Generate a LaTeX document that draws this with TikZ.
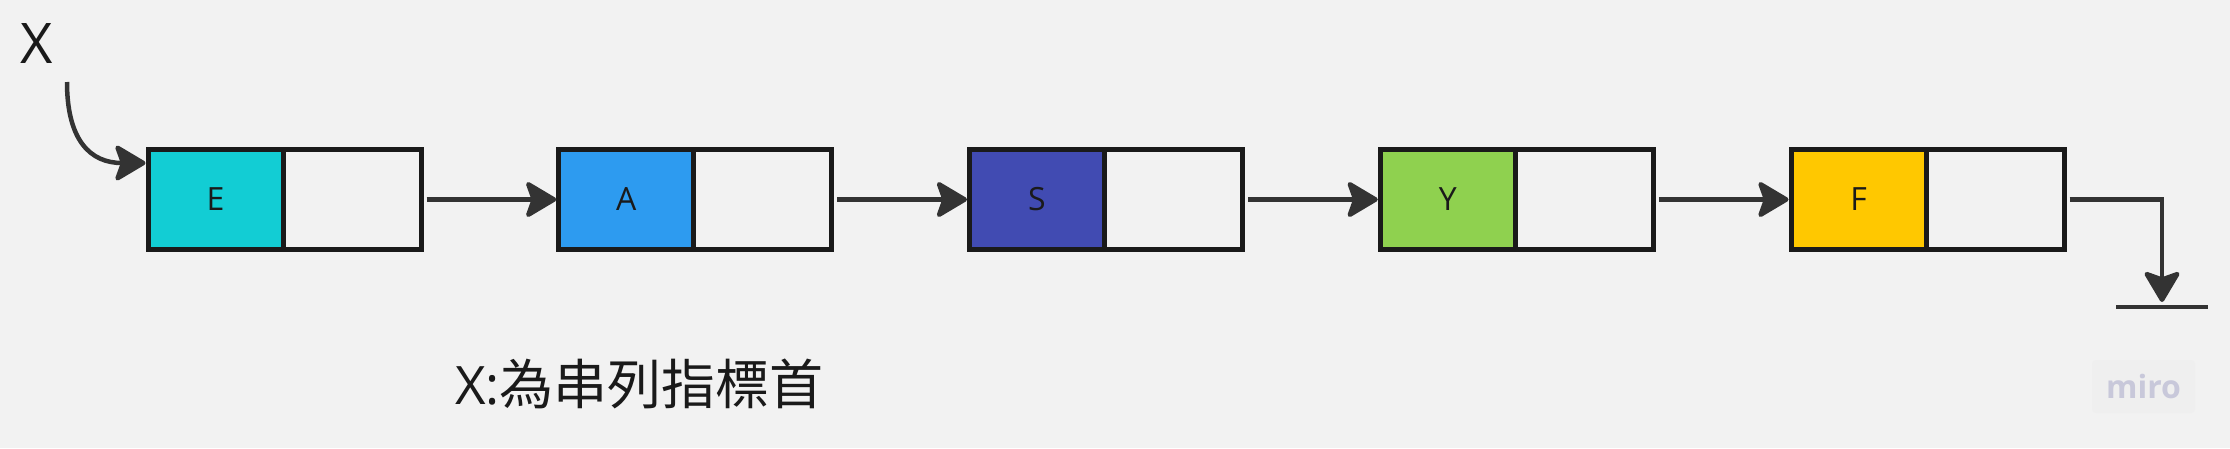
\documentclass[tikz,border=0pt]{standalone}
\usepackage{fontspec}
\setmainfont{Open Sans}
\newfontfamily\cjkfont{Noto Sans CJK TC}
\usetikzlibrary{arrows.meta}
\definecolor{bg}{HTML}{F2F2F2}
\definecolor{boxline}{HTML}{1A1A1A}
\definecolor{connc}{HTML}{333333}
\definecolor{txt}{HTML}{1A1A1A}
\definecolor{cE}{HTML}{12CDD4}
\definecolor{cA}{HTML}{2D9BF0}
\definecolor{cS}{HTML}{414BB2}
\definecolor{cY}{HTML}{8FD14F}
\definecolor{cF}{HTML}{FFC800}
\definecolor{wmbg}{HTML}{EFEFEF}
\definecolor{wmtext}{HTML}{C8C8DA}
\begin{document}
\begin{tikzpicture}[x=1pt,y=-1pt,
  cell/.style={draw=boxline, line width=5pt, minimum height=100pt, inner sep=0pt,
    font=\fontsize{32}{38}\selectfont, text=txt},
  datacell/.style={cell, minimum width=135pt},
  ptrcell/.style={cell, minimum width=138pt, fill=bg},
  conn/.style={draw=connc, line width=4.5pt,
    -{Stealth[length=34pt,width=40pt,inset=7pt,round]}},
  plainline/.style={draw=connc, line width=4.5pt},
]
\fill[bg] (0,0) rectangle (2230,448);
\useasboundingbox (0,0) rectangle (2230,448);

% top label
\node[font=\fontsize{56}{60}\selectfont, anchor=base, text=txt, inner sep=0pt] (xlabel) at (37,63) {X};

% list nodes
\node[datacell, fill=cE] (e) at (215.5,199.5) {E};
\node[ptrcell] (e2) at (352,199.5) {};
\node[datacell, fill=cA] (a) at (626.25,199.5) {A};
\node[ptrcell] (a2) at (762.75,199.5) {};
\node[datacell, fill=cS] (s) at (1037,199.5) {S};
\node[ptrcell] (s2) at (1173.5,199.5) {};
\node[datacell, fill=cY] (y) at (1447.75,199.5) {Y};
\node[ptrcell] (y2) at (1584.25,199.5) {};
\node[datacell, fill=cF] (f) at (1858.5,199.5) {F};
\node[ptrcell] (f2) at (1995,199.5) {};

% head pointer
\coordinate (xs) at (67,82);
\draw[conn] (xs) .. controls (67,140) and (90,163) .. ([yshift=36.5pt]e.west);

% links
\draw[conn] ([xshift=3pt]e2.east) -- (a.west);
\draw[conn] ([xshift=3pt]a2.east) -- (s.west);
\draw[conn] ([xshift=3pt]s2.east) -- (y.west);
\draw[conn] ([xshift=3pt]y2.east) -- (f.west);

% null terminator
\coordinate (gtip) at (2162,302);
\coordinate (gl) at (2116,307);
\coordinate (gr) at (2208,307);
\draw[conn] ([xshift=3pt]f2.east) -| (gtip);
\draw[plainline] (gl) -- (gr);

% caption
\node[anchor=base west, inner sep=0pt, text=txt] (caption) at (455,404)
  {\fontsize{53}{60}\selectfont X:\cjkfont\fontsize{54}{60}\selectfont 為串列指標首};

% watermark
\node[fill=wmbg, rounded corners=4pt, minimum width=103pt, minimum height=53pt,
  text=wmtext, font=\fontsize{32}{36}\selectfont\bfseries] (miro) at (2143.5,386.5) {miro};
\end{tikzpicture}
\end{document}
